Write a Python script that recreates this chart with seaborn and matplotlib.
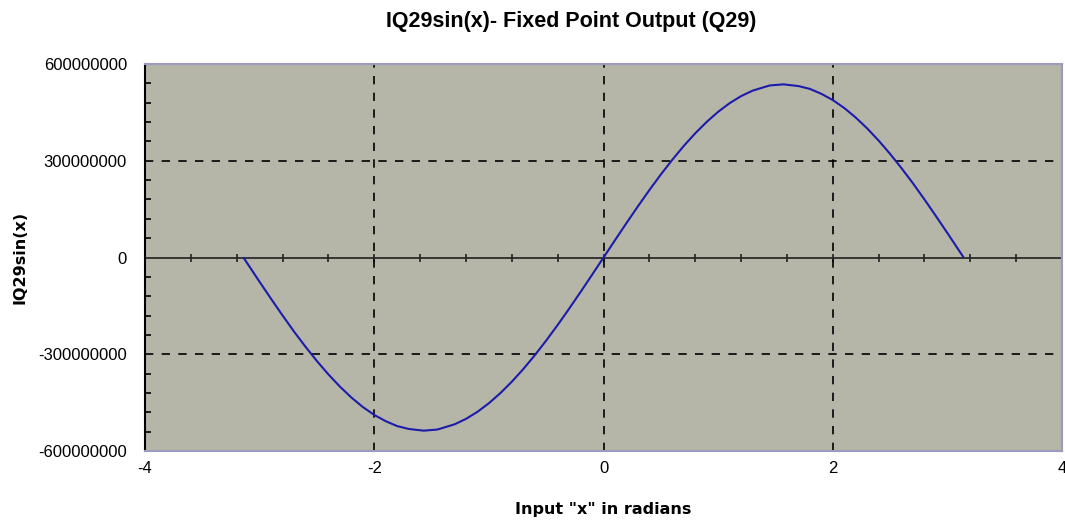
import matplotlib
matplotlib.use("Agg")
import matplotlib.pyplot as plt
import seaborn as sns
import pandas as pd
from matplotlib.ticker import MultipleLocator

# values (input radians, IQ29 output in millions)
x_rad = [-3.14, -3.0, -2.9, -2.8, -2.7, -2.6, -2.5, -2.4, -2.3, -2.2, -2.1, -2.0,
         -1.9, -1.8, -1.7, -1.57, -1.45, -1.3, -1.2, -1.1, -1.0, -0.9, -0.8, -0.7,
         -0.6, -0.5, -0.4, -0.3, -0.2, -0.1, 0.0, 0.1, 0.2, 0.3, 0.4, 0.5, 0.6, 0.7,
         0.8, 0.9, 1.0, 1.1, 1.2, 1.3, 1.45, 1.57, 1.7, 1.8, 1.9, 2.0, 2.1, 2.2, 2.3,
         2.4, 2.5, 2.6, 2.7, 2.8, 2.9, 3.0, 3.14]
iq29_sin_m = [-0.9, -75.8, -128.4, -179.9, -229.8, -276.8, -321.3, -362.6, -400.3,
              -434.1, -463.6, -488.2, -507.6, -522.8, -531.6, -536.9, -533.5, -517.3,
              -500.4, -478.5, -451.8, -420.5, -385.1, -345.9, -303.1, -257.4, -209.1,
              -158.7, -106.7, -53.6, 0.0, 53.6, 106.7, 158.7, 209.1, 257.4, 303.1, 345.9,
              385.1, 420.5, 451.8, 478.5, 500.4, 517.3, 533.5, 536.9, 531.6, 522.8, 507.6,
              488.2, 463.6, 434.1, 400.3, 362.6, 321.3, 276.8, 229.8, 179.9, 128.4, 75.8,
              0.9]
x_ticks = [-4, -2, 0, 2, 4]
y_ticks = [-600000000, -300000000, 0, 300000000, 600000000]

BG = "#b5b5a8"
EDGE = "#9b9bbf"
LINE = "#1c1caa"

sns.set_theme(style="white")
plt.rcParams["font.family"] = ["Liberation Sans", "DejaVu Sans"]
plt.rcParams["text.color"] = "black"
plt.rcParams["xtick.color"] = "black"
plt.rcParams["ytick.color"] = "black"
plt.rcParams["axes.labelcolor"] = "black"

df = pd.DataFrame({"x": x_rad, "y": [v * 1e6 for v in iq29_sin_m]})

fig = plt.figure(figsize=(10.65, 5.22), dpi=100)
ax = fig.add_axes([0.1362, 0.136, 0.861, 0.7414])
ax.set_facecolor(BG)

sns.lineplot(data=df, x="x", y="y", color=LINE, linewidth=1.5, ax=ax, zorder=4)

ax.set_xlim(-4, 4)
ax.set_ylim(-600000000, 600000000)
ax.set_xticks(x_ticks)
ax.set_yticks(y_ticks)
ax.set_yticklabels([str(v) for v in y_ticks], fontsize=12)
ax.set_xticklabels([str(v) for v in x_ticks], fontsize=12)
ax.yaxis.set_minor_locator(MultipleLocator(60000000))
ax.tick_params(axis="x", which="both", length=0, pad=7)
ax.tick_params(axis="y", which="major", length=6, width=1.2, direction="inout", color="black", pad=10)
ax.tick_params(axis="y", which="minor", length=4, width=1.2, direction="in", color="black", left=True)

# dashed gridlines at the major ticks
for v in [-2, 0, 2]:
    ax.axvline(v, color="black", linestyle=(0, (5, 5)), linewidth=1.2, zorder=2)
for v in [-300000000, 300000000]:
    ax.axhline(v, color="black", linestyle=(0, (5, 5)), linewidth=1.2, zorder=2)

# category axis crossing at zero with its own ticks
sec = ax.secondary_xaxis(0.5)
sec.set_xticks(x_ticks)
sec.xaxis.set_minor_locator(MultipleLocator(0.4))
sec.set_xticklabels([])
sec.spines["bottom"].set_color("#222222")
sec.spines["bottom"].set_linewidth(1.5)
sec.tick_params(axis="x", which="both", direction="inout", length=6, width=1.2, color="#222222")

for side in ["top", "right", "bottom"]:
    ax.spines[side].set_color(EDGE)
    ax.spines[side].set_linewidth(1.5)
ax.spines["left"].set_color("black")
ax.spines["left"].set_linewidth(1.5)

fig.text(0.536, 0.958, "IQ29sin(x)- Fixed Point Output (Q29)", ha="center", va="center",
         fontsize=15.5, fontweight="bold")
ax.set_xlabel('Input "x" in radians', fontsize=11.5, fontweight="bold", labelpad=19,
              family=["DejaVu Sans"])
ax.set_ylabel("IQ29sin(x)", fontsize=11.5, fontweight="bold", labelpad=8,
              family=["DejaVu Sans"])

fig.savefig("out.png", dpi=100)
